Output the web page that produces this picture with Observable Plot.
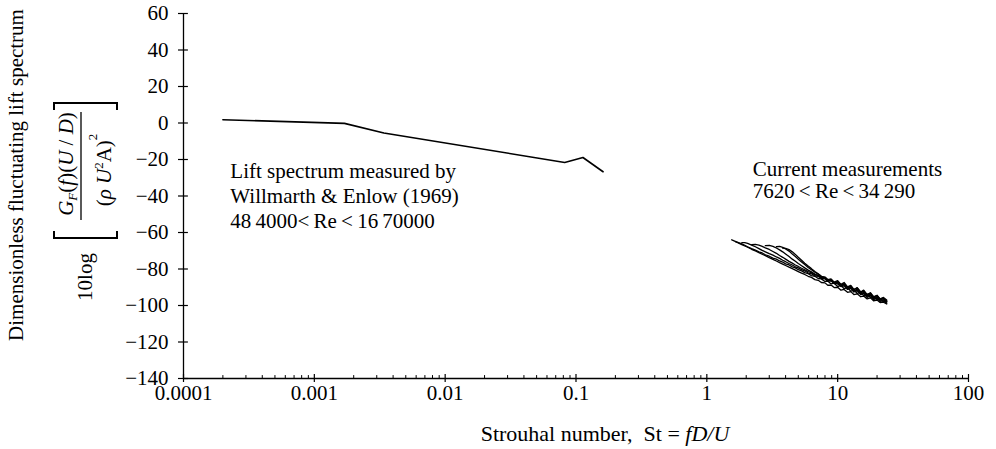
<!DOCTYPE html>
<html><head><meta charset="utf-8">
<script src="https://cdn.jsdelivr.net/npm/d3@7"></script>
<script src="https://cdn.jsdelivr.net/npm/@observablehq/plot@0.6"></script>
<style>
body{margin:0;background:#fff}
svg{font-family:"Liberation Serif","Times New Roman",serif}
</style>
</head><body><div id="chart"></div>
<script>
// Axis ticks
const yTicks = [60, 40, 20, 0, -20, -40, -60, -80, -100, -120, -140];
const xMajor = [0.0001, 0.001, 0.01, 0.1, 1, 10, 100];
const xMinor = [0.0002,0.0003,0.0004,0.0005,0.0006,0.0007,0.0008,0.0009,
  0.002,0.003,0.004,0.005,0.006,0.007,0.008,0.009,
  0.02,0.03,0.04,0.05,0.06,0.07,0.08,0.09,
  0.2,0.3,0.4,0.5,0.6,0.7,0.8,0.9,
  2,3,4,5,6,7,8,9,
  20,30,40,50,60,70,80,90];

// Willmarth & Enlow (1969) lift spectrum
const willSt  = [0.0002, 0.0017, 0.0034, 0.082, 0.113, 0.161];
const willVal = [1.8, -0.2, -5.5, -21.6, -18.9, -26.7];

// Current measurements: common Strouhal grid; each run starts at its own grid index
const stGrid = [1.55,1.65,1.75,1.85,1.95,2.05,2.2,2.35,2.5,2.65,2.8,3.0,3.2,3.4,3.6,3.8,4.0,4.25,4.5,4.75,5.0,5.3,5.6,5.95,6.3,6.7,7.1,7.5,8.0,8.4,8.9,9.4,10,10.6,11.2,11.9,12.6,13.3,14.1,15,15.8,16.8,17.8,18.8,20,21.1,22.4,23.7];
const runA = [-64,-64.9,-65.8,-66.6,-67.4,-68.1,-69.2,-70.1,-71.0,-71.9,-72.7,-73.8,-74.7,-75.6,-76.5,-77.3,-78.1,-79.0,-79.8,-80.6,-81.4,-82.3,-83.0,-84.0,-84.6,-85.8,-86.2,-87.4,-87.6,-88.9,-88.8,-90.2,-90.0,-91.6,-91.2,-92.8,-92.4,-94.0,-93.6,-95.2,-94.8,-96.4,-95.8,-97.4,-97.0,-98.4,-98.2,-99.2];
const runB = [-65.0,-65.6,-66.2,-67.0,-67.8,-68.8,-69.6,-70.6,-71.2,-72.2,-73.0,-74.0,-74.6,-75.6,-76.2,-77.2,-77.8,-78.8,-79.4,-80.4,-81.0,-82.0,-82.6,-83.6,-84.0,-85.2,-85.4,-86.8,-86.6,-88.2,-87.8,-89.6,-89.0,-90.8,-90.2,-92.2,-91.4,-93.4,-92.8,-94.6,-93.8,-95.6,-95.0,-96.8,-96.2,-98.0,-97.8];
const runC = [-65.6,-65.5,-66.0,-66.9,-67.8,-68.8,-69.8,-70.6,-71.6,-72.4,-73.4,-74.2,-75.2,-76.0,-77.0,-77.8,-78.8,-79.4,-80.4,-81.0,-82.2,-82.6,-83.8,-84.0,-85.2,-85.4,-86.8,-86.4,-88.0,-87.6,-89.4,-88.6,-90.6,-89.6,-92.0,-91.2,-93.2,-92.0,-94.6,-93.6,-95.6,-94.8,-96.6,-96.0,-97.4];
const runD = [-66.6,-66.5,-66.9,-67.6,-68.4,-69.3,-70.4,-71.4,-72.6,-73.6,-74.6,-75.8,-76.8,-77.8,-78.6,-79.6,-80.4,-81.4,-82.0,-83.2,-83.4,-84.8,-84.6,-86.2,-85.8,-87.4,-86.8,-88.8,-88.0,-90.0,-89.4,-91.4,-90.2,-92.6,-91.6,-94.0,-93.0,-95.2,-94.4,-96.4,-95.6,-97.0];
const runE = [-67.2,-67.0,-67.6,-68.5,-69.5,-70.6,-71.8,-73.2,-74.6,-75.8,-77.0,-78.2,-79.4,-80.6,-81.6,-82.8,-83.6,-84.6,-85.0,-86.4,-86.0,-87.8,-87.2,-89.2,-88.4,-90.4,-90.0,-92.0,-91.6,-93.6,-92.8,-95.0,-94.2,-96.2,-95.4,-97.2,-96.8,-98.2];
const runF = [-67.8,-67.6,-68.1,-69.0,-70.2,-71.8,-73.2,-74.6,-76.2,-77.6,-79.2,-80.4,-81.8,-82.8,-84.0,-84.4,-85.8,-85.4,-87.2,-86.4,-88.4,-87.4,-89.8,-89.0,-91.2,-90.4,-92.8,-92.0,-94.2,-93.2,-95.4,-94.6,-96.6,-96.2,-97.8];
const runG = [-68.6,-68.7,-69.4,-70.6,-72.0,-73.6,-75.2,-76.8,-78.4,-79.8,-81.4,-82.6,-84.0,-84.8,-86.0,-86.6,-87.6,-88.2,-89.6,-89.2,-91.2,-90.6,-92.6,-92.0,-94.0,-93.4,-95.6,-94.6,-96.8,-96.0,-97.8,-97.4,-98.8];
const runNames = ["A","B","C","D","E","F","G"];
const runStart = [0, 1, 3, 6, 10, 13, 15];
const runVals = [runA, runB, runC, runD, runE, runF, runG];

// Annotations
const noteLeft = {st: 0.000228, v: -39.5, text: "Lift spectrum measured by\nWillmarth & Enlow (1969)\n48\u20094000<\u2009Re\u2009<\u200916\u200970000"};
const noteRight = {st: 2.24, v: -31, text: "Current measurements\n7620\u2009<\u2009Re\u2009<\u200934\u2009290"};

const will = willSt.map((s, i) => ({st: s, v: willVal[i]}));
const cur = [];
runVals.forEach((vals, k) => vals.forEach((v, i) => cur.push({run: runNames[k], st: stGrid[runStart[k] + i], v})));

const minus = d => d < 0 ? "\u2212" + Math.abs(d) : String(d);
const FS = 21;

const plot = Plot.plot({
  width: 996, height: 449,
  marginTop: 13, marginBottom: 71, marginLeft: 183, marginRight: 28,
  style: {fontFamily: "Liberation Serif, serif", fontSize: FS + "px", color: "#000", background: "#fff", overflow: "visible"},
  x: {type: "log", domain: [1e-4, 100]},
  y: {domain: [-140, 60]},
  marks: [
    Plot.axisY({ticks: yTicks, tickSize: 0, tickPadding: 15, tickFormat: minus, label: null, fontSize: FS}),
    Plot.axisX({ticks: xMajor, tickSize: 0, tickPadding: 7, tickFormat: d => String(d), label: null, fontSize: FS}),
    Plot.ruleY(yTicks, {x1: 0.0000916, x2: 0.000109, strokeWidth: 1.2}),
    Plot.ruleX(xMajor, {y1: -142.2, y2: -137.8, strokeWidth: 1.2}),
    Plot.ruleX(xMinor, {y1: -140, y2: -138.4, strokeWidth: 1}),
    Plot.ruleY([-140], {strokeWidth: 1.3}),
    Plot.ruleX([1e-4], {strokeWidth: 1.3}),
    Plot.line(will, {x: "st", y: "v", stroke: "#000", strokeWidth: 1.6}),
    Plot.line(cur, {x: "st", y: "v", z: "run", stroke: "#000", strokeWidth: 1.3}),
    Plot.text([noteLeft], {x: "st", y: "v", text: "text", textAnchor: "start", lineAnchor: "middle", lineHeight: 1.2, fontSize: FS, fill: "#000"}),
    Plot.text([noteRight], {x: "st", y: "v", text: "text", textAnchor: "start", lineAnchor: "middle", lineHeight: 1.05, fontSize: FS, fill: "#000"})
  ]
});
document.getElementById("chart").appendChild(plot);

// Axis titles (rich text)
const svg = d3.select(plot);
const g = svg.append("g").attr("fill", "#000").style("font-size", FS + "px");
g.append("text").attr("transform", "translate(23,175) rotate(-90)").attr("text-anchor", "middle")
  .text("Dimensionless fluctuating lift spectrum");
g.append("text").attr("transform", "translate(92,277) rotate(-90)").attr("text-anchor", "middle").text("10log");
const num = g.append("text").attr("transform", "translate(73,164) rotate(-90)").attr("text-anchor", "middle");
num.append("tspan").attr("font-style", "italic").text("G");
num.append("tspan").attr("font-style", "italic").attr("font-size", "13px").attr("dy", 4).text("F");
num.append("tspan").attr("dy", -4).text("(");
num.append("tspan").attr("font-style", "italic").text("f");
num.append("tspan").text(")(");
num.append("tspan").attr("font-style", "italic").text("U");
num.append("tspan").text(" / ");
num.append("tspan").attr("font-style", "italic").text("D");
num.append("tspan").text(")");
g.append("line").attr("x1", 81).attr("x2", 81).attr("y1", 112).attr("y2", 220).attr("stroke", "#000").attr("stroke-width", 1.3);
const den = g.append("text").attr("transform", "translate(111,170) rotate(-90)").attr("text-anchor", "middle");
den.append("tspan").text("(");
den.append("tspan").attr("font-style", "italic").text("ρ U");
den.append("tspan").attr("font-size", "13px").attr("dy", -8).text("2");
den.append("tspan").attr("dy", 8).text("A)");
den.append("tspan").attr("font-size", "13px").attr("dy", -14).text("2");
g.append("path").attr("d", "M54,110V103H117V110").attr("fill", "none").attr("stroke", "#000").attr("stroke-width", 2);
g.append("path").attr("d", "M54,231V238H117V231").attr("fill", "none").attr("stroke", "#000").attr("stroke-width", 2);
const xt = g.append("text").attr("x", 605).attr("y", 441).attr("text-anchor", "middle").style("white-space", "pre").style("font-size", "22px");
xt.append("tspan").text("Strouhal number,  St = ");
xt.append("tspan").attr("font-style", "italic").text("fD/U");
</script>
</body></html>
